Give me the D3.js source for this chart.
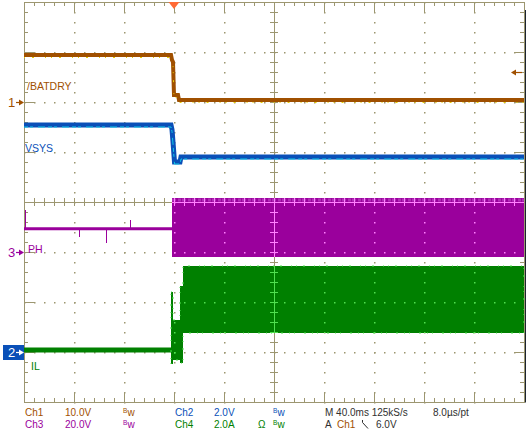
<!DOCTYPE html>
<html><head><meta charset="utf-8">
<script src="https://cdn.jsdelivr.net/npm/d3@7"></script>
<style>
body{margin:0;background:#fff}
svg{display:block}
text{font-family:"Liberation Sans",Arial,sans-serif}
</style>
</head><body>
<svg id="c" width="530" height="443"></svg>
<script>
// ---------- data ----------
const chNames = ["Ch1", "Ch2", "Ch3", "Ch4"];
const chScaleText = ["10.0V", "2.0V", "20.0V", "2.0A"];
const chPerDiv = [10, 2, 20, 2];
const chGroundDiv = [2, -3, -1, -3];
const traceLabels = ["/BATDRY", "VSYS", "PH", "IL"];
const timePerDiv = 40;            // ms/div
const sampleRate = "125kS/s";
const pointTime = "8.0µs/pt";
const triggerLevel = 6.0;          // V on Ch1
const triggerTime = 0;             // ms

// Ch1 /BATDRY (V)
const ch1Time = [-120, -2.4, -1.6, -0.8, 0.0, 3.2, 4.0, 280];
const ch1Volt = [9.4, 9.4, 8.4, 8.0, 1.4, 1.4, 0.4, 0.4];
// Ch2 VSYS (V)
const ch2Time = [-120, -2.4, -1.6, -0.8, 0.4, 4.8, 5.6, 280];
const ch2Volt = [9.08, 9.08, 8.9, 8.4, 7.6, 7.6, 7.8, 7.8];
// Ch3 PH (V) envelope
const ch3Time = [-120, -1.6, 280];
const ch3Max = [9.9, 21.6, 21.6];
const ch3Min = [8.7, -2.0, -2.0];
const ch3GlitchTime = [-119.2, -76, -54.4, -35.2];
const ch3GlitchVolt = [16.8, 6.0, 3.6, 12.8];
// Ch4 IL (A) envelope
const ch4Time = [-120, -2.4, -0.8, 4.8, 7.2, 280];
const ch4Max = [0.18, 2.4, 1.28, 2.64, 3.44, 3.44];
const ch4Min = [-0.02, -0.48, -0.32, -0.44, 0.76, 0.76];

// ---------- styles ----------
const col = {brown:"#a05000", blue:"#0a50b8", purple:"#9a009c", green:"#008000",
             dark:"#303030", grid:"#9c9670", yellow:"#e8d000", cyan:"#10c8e8",
             pink:"#ff80ff", lgreen:"#50e050", trig:"#ff6a35"};
const chColor = [col.brown, col.blue, col.purple, col.green];

const svg = d3.select("#c");
svg.append("rect").attr("width",530).attr("height",443).attr("fill","#fff");

// ---------- scales ----------
const x = d3.scaleLinear().domain([-3*timePerDiv, 7*timePerDiv]).range([24, 524]);
const xDiv = d3.scaleLinear().domain([0, 10]).range([24, 524]);
const yDiv = d3.scaleLinear().domain([-4, 4]).range([402, 2]);
const chY = chPerDiv.map((p, i) => v => yDiv(chGroundDiv[i] + v / p));

const minorX = d3.range(0, 10.001, 0.2);
const majorX = d3.range(0, 11, 1);
const minorY = d3.range(-4, 4.001, 0.2);
const majorY = d3.range(-4, 5, 1);

function ax(g, axisFn, scale, vals, size, tx, ty, color, withDomain) {
  const a = axisFn(scale).tickValues(vals).tickSize(size).tickSizeOuter(0).tickFormat("");
  const gg = g.append("g").attr("transform", `translate(${tx},${ty})`).attr("color", color).call(a);
  gg.selectAll("text").remove();
  if (!withDomain) gg.select(".domain").remove();
  gg.selectAll("path,line").attr("shape-rendering","crispEdges");
  return gg;
}

function drawDotsAndCross(g, color) {
  const dots = [];
  majorX.filter(k => k > 0 && k < 10 && k !== 5).forEach(k =>
    minorY.forEach(d => dots.push([xDiv(k), yDiv(d)])));
  majorY.filter(m => m > -4 && m < 4 && m !== 0).forEach(m =>
    minorX.forEach(d => dots.push([xDiv(d), yDiv(m)])));
  g.append("g").selectAll("rect").data(dots).join("rect")
    .attr("x", d => d[0]).attr("y", d => d[1])
    .attr("width", 1.5).attr("height", 1.5).attr("fill", color);
  // center cross with ticks
  ax(g, d3.axisTop, xDiv, minorX, 4, 0, yDiv(0), color, true);
  ax(g, d3.axisBottom, xDiv, minorX, 4, 0, yDiv(0), color, false);
  ax(g, d3.axisLeft, yDiv, minorY, 4, xDiv(5), 0, color, true);
  ax(g, d3.axisRight, yDiv, minorY, 4, xDiv(5), 0, color, false);
}

// ---------- base grid ----------
const gridG = svg.append("g");
drawDotsAndCross(gridG, col.grid);
// border
ax(gridG, d3.axisBottom, xDiv, minorX, 4, 0, yDiv(4), col.grid, true);
ax(gridG, d3.axisBottom, xDiv, majorX, 10, 0, yDiv(4), col.grid, false);
ax(gridG, d3.axisTop, xDiv, minorX, 4, 0, yDiv(-4), col.grid, true);
ax(gridG, d3.axisTop, xDiv, majorX, 10, 0, yDiv(-4), col.grid, false);
ax(gridG, d3.axisRight, yDiv, minorY, 4, xDiv(0), 0, col.grid, true);
ax(gridG, d3.axisRight, yDiv, majorY, 10, xDiv(0), 0, col.grid, false);
ax(gridG, d3.axisLeft, yDiv, minorY, 4, xDiv(10), 0, col.grid, true);
ax(gridG, d3.axisLeft, yDiv, majorY, 10, xDiv(10), 0, col.grid, false);
svg.append("line").attr("x1", xDiv(10)+1.5).attr("x2", xDiv(10)+1.5)
  .attr("y1", yDiv(4)+8).attr("y2", yDiv(-4)+0.5).attr("stroke", "#1c2430").attr("stroke-width", 1);

// ---------- traces ----------
const zip = (a, b) => a.map((t, i) => [t, b[i]]);
const zip3 = (a, b, c) => a.map((t, i) => [t, b[i], c[i]]);

// Ch3 band
const ch3Data = zip3(ch3Time, ch3Min, ch3Max);
const area3 = d3.area().x(d => x(d[0])).y0(d => chY[2](d[1])).y1(d => chY[2](d[2])).curve(d3.curveStepAfter);
svg.append("path").attr("d", area3(ch3Data)).attr("fill", col.purple);
svg.append("clipPath").attr("id","clip3").append("path").attr("d", area3(ch3Data.slice(1)));
svg.append("path").attr("d", d3.line().x(d => x(d[0])).y(d => chY[2](d[2]) + 2)(ch3Data.slice(1)))
  .attr("fill","none").attr("stroke","#b030b8").attr("stroke-width",3).attr("stroke-dasharray","2,1,1,2,3,1");
svg.append("g").selectAll("line").data(zip(ch3GlitchTime, ch3GlitchVolt)).join("line")
  .attr("x1", d => Math.round(x(d[0])) + 0.5).attr("x2", d => Math.round(x(d[0])) + 0.5)
  .attr("y1", chY[2](9.3)).attr("y2", d => chY[2](d[1]))
  .attr("stroke", col.purple).attr("stroke-width", 1);

// Ch4 band
const ch4Data = zip3(ch4Time, ch4Min, ch4Max);
const area4 = d3.area().x(d => x(d[0])).y0(d => chY[3](d[1])).y1(d => chY[3](d[2])).curve(d3.curveStepAfter);
svg.append("path").attr("d", area4(ch4Data)).attr("fill", col.green);
svg.append("clipPath").attr("id","clip4").append("path").attr("d", area4(ch4Data.slice(1)));
svg.append("path").attr("d", area4(ch4Data.slice(1))).attr("fill","none")
  .attr("stroke", col.lgreen).attr("stroke-width", 1).attr("stroke-dasharray","1,6,2,9,1,4");

// grid overlays inside switching bands
drawDotsAndCross(svg.append("g").attr("clip-path","url(#clip3)"), col.pink);
drawDotsAndCross(svg.append("g").attr("clip-path","url(#clip4)"), col.lgreen);

// Ch2 line
const line2 = d3.line().x(d => x(d[0])).y(d => chY[1](d[1]));
const ch2Data = zip(ch2Time, ch2Volt);
svg.append("path").attr("d", line2(ch2Data)).attr("fill","none").attr("stroke", col.blue).attr("stroke-width", 5);
svg.append("path").attr("d", line2(ch2Data)).attr("transform","translate(0,2)").attr("fill","none")
  .attr("stroke", col.cyan).attr("stroke-width", 1).attr("stroke-dasharray","4,2,3,5,7,3");

// Ch1 line
const line1 = d3.line().x(d => x(d[0])).y(d => chY[0](d[1]));
const ch1Data = zip(ch1Time, ch1Volt);
svg.append("path").attr("d", line1(ch1Data)).attr("fill","none").attr("stroke", col.brown).attr("stroke-width", 4);
svg.append("path").attr("d", line1(ch1Data)).attr("transform","translate(0,2.5)").attr("fill","none")
  .attr("stroke", col.yellow).attr("stroke-width", 1).attr("stroke-dasharray","1,7,2,11,1,5");

// ---------- trace labels ----------
const labelPos = [[27, 90], [25, 152], [28, 253], [31, 370]];
traceLabels.forEach((t, i) => svg.append("text").attr("x", labelPos[i][0]).attr("y", labelPos[i][1])
  .attr("font-size", 10.5).attr("fill", chColor[i]).text(t));

// ---------- channel ground markers ----------
function marker(i, num, boxed) {
  const y = Math.round(chY[i](0));
  const g = svg.append("g");
  let c = chColor[i];
  if (boxed) {
    g.append("rect").attr("x", 3).attr("y", y - 7).attr("width", 21).attr("height", 15).attr("fill", c);
    c = "#fff";
  }
  g.append("text").attr("x", 8).attr("y", y + 5).attr("font-size", 13).attr("fill", c).text(num);
  g.append("line").attr("x1", 16).attr("x2", 21).attr("y1", y + 0.5).attr("y2", y + 0.5).attr("stroke", c).attr("stroke-width", 1.2);
  g.append("path").attr("d", `M19,${y-2.5}L24,${y+0.5}L19,${y+3.5}Z`).attr("fill", c);
}
marker(0, "1", false);
marker(2, "3", false);
marker(1, "2", true);

// trigger level arrow (right)
{
  const y = Math.round(chY[0](triggerLevel));
  svg.append("line").attr("x1", 513).attr("x2", 522).attr("y1", y + 0.5).attr("y2", y + 0.5).attr("stroke", col.brown).attr("stroke-width", 1.2);
  svg.append("path").attr("d", `M511,${y+0.5}L516,${y-2.5}L516,${y+3.5}Z`).attr("fill", col.brown);
}
// trigger time marker (top)
{
  const tx = x(triggerTime);
  svg.append("path").attr("d", `M${tx-5.5},2L${tx+5.5},2L${tx},9Z`).attr("fill", col.trig);
}

// ---------- bottom readout ----------
const rowY = [416, 428];
function txt(xp, row, s, c) {
  return svg.append("text").attr("x", xp).attr("y", rowY[row]).attr("font-size", 10).attr("fill", c).text(s);
}
function bw(xp, row, c) {
  svg.append("text").attr("x", xp).attr("y", rowY[row] - 3).attr("font-size", 6.5).attr("fill", c).text("B");
  svg.append("text").attr("x", xp + 4.5).attr("y", rowY[row]).attr("font-size", 10).attr("fill", c).text("w");
}
const colX = [[25, 65, 123], [175, 214, 273]];
chNames.forEach((n, i) => {
  const row = i < 2 ? 0 : 1;
  const cx = colX[i % 2];
  txt(cx[0], row, n, chColor[i]);
  txt(cx[1], row, chScaleText[i], chColor[i]);
  bw(cx[2], row, chColor[i]);
});
txt(258, 1, "Ω", col.green);
txt(325, 0, `M ${timePerDiv.toFixed(1)}ms ${sampleRate}`, col.dark);
txt(433, 0, pointTime, col.dark);
txt(325, 1, "A", col.dark);
txt(337, 1, chNames[0], col.brown);
svg.append("path").attr("d", `M362.5,420V422.5L368,428.5`).attr("fill","none").attr("stroke", col.dark).attr("stroke-width", 1);
txt(376, 1, `${triggerLevel.toFixed(1)}V`, col.dark);
</script>
</body></html>
